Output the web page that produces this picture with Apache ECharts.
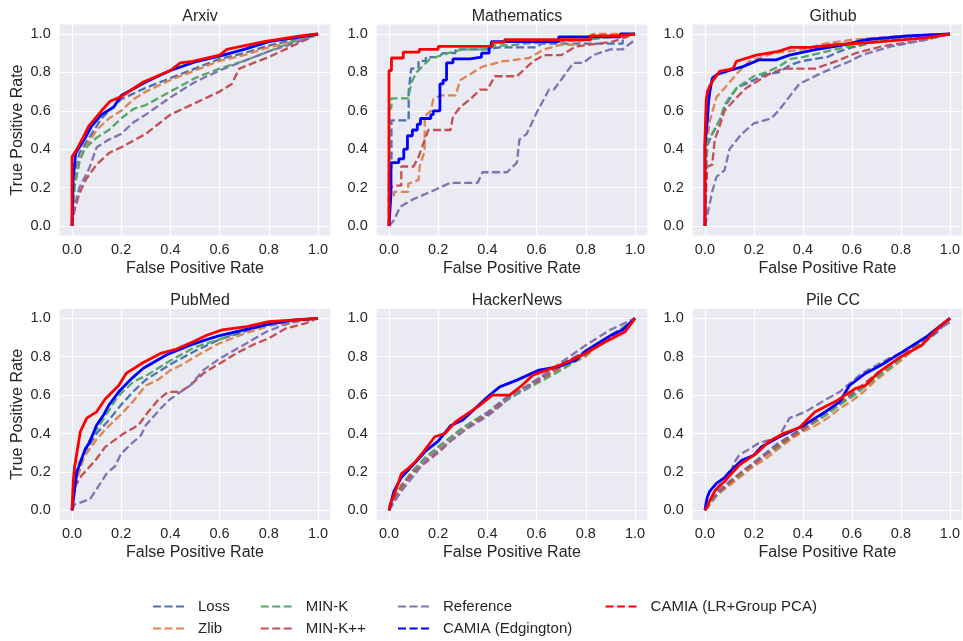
<!DOCTYPE html>
<html><head><meta charset="utf-8">
<script src="https://cdn.jsdelivr.net/npm/echarts@6/dist/echarts.min.js"></script>
<style>html,body{margin:0;padding:0;background:#fff}#chart{width:963px;height:641px}</style>
</head><body><div id="chart"></div><script>
const methods = ['Loss','Zlib','MIN-K','MIN-K++','Reference','CAMIA (Edgington)','CAMIA (LR+Group PCA)'];
const methodColors = ['#4C72B0','#DD8452','#55A868','#C44E52','#8172B3','#0000FF','#FF0000'];
const panelTitles = ['Arxiv','Mathematics','Github','PubMed','HackerNews','Pile CC'];
const tickValues = [0,0.2,0.4,0.6,0.8,1.0];

// ---- Arxiv ----
const arxivLoss = [[0,0],[0.01,0.25],[0.03,0.38],[0.08,0.48],[0.12,0.56],[0.15,0.6],[0.2,0.66],[0.3,0.72],[0.4,0.77],[0.5,0.82],[0.6,0.87],[0.7,0.9],[0.8,0.94],[0.9,0.97],[1,1]];
const arxivZlib = [[0,0],[0.01,0.2],[0.03,0.35],[0.07,0.44],[0.1,0.5],[0.15,0.56],[0.2,0.6],[0.25,0.66],[0.3,0.7],[0.4,0.76],[0.5,0.81],[0.6,0.86],[0.7,0.89],[0.8,0.93],[0.9,0.96],[1,1]];
const arxivMinK = [[0,0],[0.01,0.2],[0.03,0.33],[0.05,0.4],[0.1,0.46],[0.15,0.5],[0.2,0.56],[0.25,0.61],[0.3,0.63],[0.4,0.7],[0.5,0.77],[0.6,0.82],[0.7,0.86],[0.8,0.91],[0.9,0.96],[1,1]];
const arxivMinKpp = [[0,0],[0.01,0.08],[0.03,0.17],[0.06,0.25],[0.1,0.32],[0.15,0.38],[0.2,0.41],[0.3,0.48],[0.4,0.58],[0.5,0.64],[0.6,0.7],[0.65,0.74],[0.68,0.82],[0.8,0.88],[0.9,0.94],[1,1]];
const arxivRef = [[0,0],[0.01,0.1],[0.03,0.2],[0.07,0.3],[0.1,0.41],[0.15,0.45],[0.2,0.48],[0.25,0.54],[0.3,0.58],[0.4,0.67],[0.5,0.75],[0.6,0.81],[0.7,0.86],[0.8,0.91],[0.9,0.95],[1,1]];
const arxivEdg = [[0,0],[0.005,0.25],[0.015,0.38],[0.05,0.45],[0.08,0.52],[0.12,0.58],[0.17,0.62],[0.2,0.68],[0.3,0.75],[0.4,0.81],[0.5,0.855],[0.6,0.885],[0.7,0.92],[0.8,0.96],[0.9,0.98],[1,1]];
const arxivLR = [[0,0],[0,0.36],[0.02,0.4],[0.047,0.465],[0.068,0.52],[0.12,0.6],[0.155,0.65],[0.2,0.674],[0.29,0.75],[0.4,0.81],[0.44,0.85],[0.49,0.857],[0.6,0.89],[0.63,0.92],[0.78,0.96],[0.93,0.99],[1,1]];

// ---- Mathematics ----
const mathLoss = [[0,0],[0,0.3],[0.01,0.3],[0.01,0.55],[0.08,0.55],[0.08,0.7],[0.09,0.82],[0.12,0.82],[0.12,0.86],[0.15,0.86],[0.15,0.88],[0.2,0.88],[0.22,0.9],[0.27,0.9],[0.27,0.92],[0.4,0.92],[0.45,0.93],[0.6,0.93],[0.62,0.95],[0.95,0.95],[0.95,0.99],[1,1]];
const mathZlib = [[0,0],[0,0.15],[0.02,0.15],[0.02,0.178],[0.078,0.178],[0.078,0.22],[0.12,0.24],[0.125,0.31],[0.145,0.39],[0.145,0.57],[0.17,0.6],[0.18,0.66],[0.21,0.68],[0.27,0.68],[0.29,0.76],[0.38,0.83],[0.46,0.857],[0.57,0.875],[0.63,0.92],[0.7,0.944],[0.75,0.944],[0.83,1],[1,1]];
const mathMinK = [[0,0],[0,0.6],[0.01,0.62],[0.01,0.665],[0.078,0.665],[0.092,0.75],[0.112,0.8],[0.166,0.87],[0.24,0.9],[0.3,0.92],[0.395,0.92],[0.41,0.94],[0.49,0.94],[0.55,0.95],[0.8,0.97],[0.95,0.99],[1,1]];
const mathMinKpp = [[0,0],[0,0.2],[0.03,0.21],[0.05,0.21],[0.05,0.31],[0.1,0.31],[0.12,0.36],[0.16,0.5],[0.25,0.5],[0.26,0.57],[0.29,0.62],[0.33,0.66],[0.37,0.71],[0.4,0.71],[0.43,0.78],[0.52,0.78],[0.545,0.81],[0.585,0.857],[0.63,0.89],[0.7,0.89],[0.76,0.935],[0.91,0.96],[1,1]];
const mathRef = [[0,0],[0.02,0.03],[0.045,0.1],[0.1,0.14],[0.19,0.19],[0.25,0.225],[0.36,0.225],[0.38,0.28],[0.48,0.28],[0.52,0.33],[0.53,0.45],[0.56,0.48],[0.6,0.59],[0.65,0.71],[0.67,0.71],[0.71,0.78],[0.75,0.85],[0.79,0.85],[0.83,0.89],[0.9,0.92],[0.95,0.92],[1,0.97]];
const mathEdg = [[0,0],[0.008,0.17],[0.008,0.33],[0.04,0.33],[0.04,0.35],[0.06,0.35],[0.06,0.4],[0.075,0.4],[0.075,0.47],[0.095,0.47],[0.095,0.5],[0.115,0.5],[0.115,0.53],[0.128,0.53],[0.128,0.56],[0.17,0.56],[0.17,0.58],[0.18,0.58],[0.18,0.6],[0.207,0.6],[0.207,0.74],[0.22,0.74],[0.22,0.76],[0.234,0.76],[0.234,0.85],[0.26,0.85],[0.26,0.87],[0.33,0.87],[0.33,0.88],[0.376,0.88],[0.376,0.9],[0.407,0.9],[0.407,0.93],[0.416,0.93],[0.416,0.96],[0.69,0.96],[0.69,0.985],[0.94,0.985],[0.94,1],[1,1]];
const mathLR = [[0,0],[0,0.81],[0.01,0.81],[0.01,0.875],[0.058,0.875],[0.058,0.906],[0.123,0.906],[0.123,0.92],[0.2,0.92],[0.2,0.936],[0.42,0.936],[0.42,0.956],[0.47,0.956],[0.47,0.97],[0.82,0.97],[0.82,0.99],[0.93,0.99],[0.93,1],[1,1]];

// ---- Github ----
const githubLoss = [[0,0],[0.005,0.3],[0.01,0.42],[0.03,0.48],[0.06,0.55],[0.08,0.62],[0.1,0.66],[0.13,0.72],[0.2,0.76],[0.25,0.79],[0.3,0.8],[0.35,0.84],[0.4,0.86],[0.5,0.88],[0.55,0.91],[0.6,0.93],[0.7,0.96],[0.8,0.98],[1,1]];
const githubZlib = [[0,0],[0.005,0.35],[0.01,0.45],[0.02,0.55],[0.025,0.57],[0.047,0.67],[0.088,0.73],[0.135,0.8],[0.18,0.857],[0.28,0.9],[0.4,0.92],[0.49,0.95],[0.6,0.97],[0.7,0.98],[0.8,0.99],[1,1]];
const githubMinK = [[0,0],[0.005,0.35],[0.01,0.45],[0.03,0.48],[0.06,0.55],[0.08,0.63],[0.1,0.67],[0.13,0.72],[0.2,0.78],[0.25,0.8],[0.3,0.83],[0.35,0.87],[0.4,0.88],[0.5,0.91],[0.6,0.94],[0.7,0.96],[0.8,0.98],[1,1]];
const githubMinKpp = [[0,0],[0.005,0.2],[0.01,0.31],[0.03,0.32],[0.04,0.45],[0.06,0.52],[0.08,0.6],[0.13,0.67],[0.17,0.72],[0.26,0.79],[0.32,0.82],[0.45,0.82],[0.55,0.865],[0.615,0.9],[0.72,0.935],[0.9,0.97],[1,1]];
const githubRef = [[0,0],[0.01,0.06],[0.02,0.12],[0.03,0.18],[0.047,0.256],[0.08,0.29],[0.1,0.4],[0.15,0.48],[0.2,0.535],[0.27,0.56],[0.3,0.6],[0.345,0.674],[0.385,0.74],[0.48,0.8],[0.59,0.857],[0.64,0.89],[0.76,0.935],[0.9,0.97],[1,1]];
const githubEdg = [[0,0],[0,0.42],[0.01,0.55],[0.015,0.65],[0.02,0.7],[0.03,0.77],[0.05,0.79],[0.1,0.81],[0.155,0.83],[0.22,0.865],[0.29,0.865],[0.345,0.89],[0.45,0.918],[0.55,0.94],[0.655,0.97],[0.83,0.99],[1,1]];
const githubLR = [[0,0],[0,0.45],[0.005,0.65],[0.01,0.7],[0.02,0.73],[0.034,0.76],[0.06,0.805],[0.115,0.82],[0.128,0.857],[0.21,0.89],[0.3,0.91],[0.35,0.93],[0.43,0.93],[0.53,0.944],[0.72,0.96],[0.9,0.98],[1,1]];

// ---- PubMed ----
const pubmedLoss = [[0,0],[0.01,0.15],[0.03,0.22],[0.05,0.3],[0.1,0.4],[0.15,0.47],[0.2,0.55],[0.25,0.62],[0.3,0.68],[0.35,0.72],[0.4,0.76],[0.5,0.83],[0.6,0.89],[0.7,0.93],[0.8,0.97],[0.9,0.99],[1,1]];
const pubmedZlib = [[0,0],[0.01,0.12],[0.03,0.2],[0.05,0.28],[0.1,0.37],[0.15,0.44],[0.2,0.5],[0.25,0.57],[0.3,0.65],[0.35,0.68],[0.4,0.73],[0.45,0.76],[0.5,0.8],[0.6,0.87],[0.7,0.92],[0.8,0.96],[0.9,0.98],[1,1]];
const pubmedMinK = [[0,0],[0.01,0.18],[0.03,0.25],[0.05,0.3],[0.07,0.36],[0.1,0.42],[0.13,0.48],[0.15,0.52],[0.18,0.58],[0.2,0.61],[0.25,0.67],[0.3,0.7],[0.35,0.74],[0.4,0.78],[0.5,0.85],[0.6,0.89],[0.7,0.94],[0.8,0.97],[0.9,0.99],[1,1]];
const pubmedMinKpp = [[0,0],[0.01,0.12],[0.04,0.183],[0.095,0.26],[0.135,0.33],[0.21,0.4],[0.27,0.443],[0.31,0.513],[0.35,0.574],[0.39,0.617],[0.44,0.617],[0.48,0.65],[0.534,0.713],[0.6,0.765],[0.68,0.826],[0.75,0.87],[0.8,0.896],[0.87,0.948],[0.95,0.974],[1,1]];
const pubmedRef = [[0,0],[0.01,0.03],[0.034,0.04],[0.074,0.06],[0.1,0.11],[0.14,0.19],[0.175,0.23],[0.2,0.296],[0.25,0.357],[0.28,0.39],[0.3,0.443],[0.36,0.53],[0.4,0.58],[0.48,0.65],[0.534,0.73],[0.6,0.79],[0.71,0.87],[0.79,0.93],[0.86,0.965],[0.93,0.99],[1,1]];
const pubmedEdg = [[0,0],[0.02,0.2],[0.054,0.32],[0.07,0.35],[0.1,0.443],[0.128,0.496],[0.15,0.548],[0.19,0.617],[0.243,0.687],[0.29,0.74],[0.385,0.81],[0.48,0.86],[0.55,0.89],[0.6,0.91],[0.7,0.94],[0.8,0.97],[0.9,0.99],[1,1]];
const pubmedLR = [[0,0],[0.005,0.15],[0.01,0.22],[0.02,0.3],[0.034,0.41],[0.06,0.48],[0.1,0.513],[0.135,0.58],[0.19,0.65],[0.22,0.713],[0.29,0.77],[0.36,0.817],[0.425,0.84],[0.49,0.877],[0.55,0.913],[0.61,0.94],[0.71,0.957],[0.8,0.983],[1,1]];

// ---- HackerNews ----
const hnLoss = [[0,0],[0.02,0.06],[0.05,0.13],[0.1,0.21],[0.15,0.27],[0.2,0.33],[0.25,0.38],[0.3,0.43],[0.35,0.47],[0.4,0.51],[0.45,0.56],[0.5,0.61],[0.55,0.64],[0.6,0.68],[0.7,0.76],[0.8,0.83],[0.9,0.91],[0.95,0.95],[1,1]];
const hnZlib = [[0,0],[0.02,0.05],[0.05,0.12],[0.1,0.2],[0.15,0.27],[0.2,0.32],[0.25,0.37],[0.3,0.42],[0.35,0.46],[0.4,0.5],[0.45,0.55],[0.5,0.6],[0.6,0.67],[0.7,0.74],[0.8,0.8],[0.85,0.86],[0.9,0.9],[0.95,0.94],[1,1]];
const hnMinK = [[0,0],[0.02,0.06],[0.05,0.13],[0.1,0.21],[0.15,0.28],[0.2,0.33],[0.25,0.38],[0.3,0.43],[0.35,0.47],[0.4,0.5],[0.45,0.55],[0.5,0.59],[0.6,0.66],[0.7,0.73],[0.8,0.81],[0.85,0.86],[0.9,0.91],[0.95,0.95],[1,1]];
const hnMinKpp = [[0,0],[0.02,0.05],[0.05,0.12],[0.1,0.2],[0.15,0.25],[0.2,0.3],[0.25,0.36],[0.3,0.41],[0.35,0.46],[0.4,0.5],[0.45,0.55],[0.5,0.6],[0.6,0.67],[0.7,0.75],[0.8,0.83],[0.9,0.9],[0.95,0.94],[1,1]];
const hnRef = [[0,0],[0.02,0.04],[0.05,0.1],[0.1,0.18],[0.15,0.26],[0.2,0.31],[0.25,0.36],[0.3,0.41],[0.35,0.45],[0.4,0.49],[0.45,0.54],[0.5,0.6],[0.55,0.63],[0.6,0.68],[0.7,0.77],[0.8,0.86],[0.85,0.9],[0.9,0.94],[0.95,0.97],[1,1]];
const hnEdg = [[0,0],[0.02,0.1],[0.05,0.17],[0.1,0.24],[0.15,0.31],[0.2,0.36],[0.25,0.44],[0.3,0.47],[0.35,0.53],[0.4,0.59],[0.45,0.643],[0.52,0.678],[0.61,0.73],[0.69,0.748],[0.76,0.783],[0.8,0.83],[0.85,0.87],[0.9,0.91],[0.95,0.94],[1,1]];
const hnLR = [[0,0],[0.005,0.03],[0.02,0.08],[0.04,0.15],[0.05,0.19],[0.08,0.22],[0.105,0.25],[0.14,0.304],[0.186,0.383],[0.227,0.4],[0.27,0.46],[0.33,0.513],[0.37,0.548],[0.42,0.6],[0.49,0.6],[0.54,0.65],[0.585,0.704],[0.68,0.748],[0.79,0.81],[0.88,0.878],[0.96,0.93],[1,1]];

// ---- Pile CC ----
const pileLoss = [[0,0],[0.02,0.04],[0.05,0.09],[0.1,0.15],[0.15,0.2],[0.2,0.25],[0.25,0.3],[0.3,0.35],[0.35,0.39],[0.4,0.43],[0.45,0.46],[0.5,0.51],[0.55,0.55],[0.6,0.6],[0.65,0.65],[0.7,0.7],[0.8,0.79],[0.9,0.88],[0.95,0.93],[1,1]];
const pileZlib = [[0,0],[0.02,0.04],[0.05,0.08],[0.1,0.13],[0.15,0.18],[0.2,0.23],[0.25,0.27],[0.3,0.32],[0.35,0.37],[0.4,0.41],[0.45,0.44],[0.5,0.48],[0.55,0.53],[0.6,0.57],[0.65,0.62],[0.7,0.68],[0.8,0.78],[0.9,0.89],[1,1]];
const pileMinK = [[0,0],[0.02,0.03],[0.05,0.08],[0.1,0.14],[0.15,0.19],[0.2,0.24],[0.25,0.29],[0.3,0.33],[0.35,0.38],[0.4,0.42],[0.45,0.46],[0.5,0.5],[0.55,0.55],[0.6,0.59],[0.65,0.64],[0.7,0.69],[0.8,0.79],[0.9,0.89],[1,1]];
const pileMinKpp = [[0,0],[0.02,0.04],[0.05,0.09],[0.1,0.14],[0.15,0.2],[0.2,0.24],[0.25,0.29],[0.3,0.34],[0.35,0.38],[0.4,0.42],[0.45,0.47],[0.5,0.52],[0.55,0.56],[0.6,0.61],[0.65,0.66],[0.7,0.71],[0.8,0.8],[0.9,0.9],[1,1]];
const pileRef = [[0,0],[0.02,0.05],[0.05,0.1],[0.1,0.18],[0.12,0.25],[0.14,0.287],[0.22,0.35],[0.3,0.38],[0.345,0.48],[0.41,0.513],[0.49,0.574],[0.55,0.617],[0.64,0.713],[0.75,0.79],[0.8,0.82],[0.85,0.86],[0.9,0.9],[0.95,0.94],[1,0.98]];
const pileEdg = [[0,0],[0.005,0.04],[0.01,0.07],[0.02,0.1],[0.047,0.14],[0.08,0.17],[0.1,0.2],[0.15,0.26],[0.2,0.287],[0.23,0.33],[0.3,0.38],[0.35,0.41],[0.4,0.44],[0.45,0.48],[0.5,0.52],[0.55,0.565],[0.59,0.65],[0.655,0.713],[0.72,0.757],[0.8,0.82],[0.85,0.86],[0.9,0.9],[0.95,0.95],[1,1]];
const pileLR = [[0,0],[0.01,0.02],[0.02,0.05],[0.04,0.1],[0.06,0.13],[0.08,0.15],[0.1,0.18],[0.14,0.235],[0.21,0.296],[0.26,0.357],[0.32,0.4],[0.385,0.43],[0.45,0.513],[0.53,0.565],[0.615,0.635],[0.655,0.65],[0.71,0.72],[0.8,0.8],[0.885,0.86],[0.95,0.948],[1,1]];

const panelData = [
  [arxivLoss, arxivZlib, arxivMinK, arxivMinKpp, arxivRef, arxivEdg, arxivLR],
  [mathLoss, mathZlib, mathMinK, mathMinKpp, mathRef, mathEdg, mathLR],
  [githubLoss, githubZlib, githubMinK, githubMinKpp, githubRef, githubEdg, githubLR],
  [pubmedLoss, pubmedZlib, pubmedMinK, pubmedMinKpp, pubmedRef, pubmedEdg, pubmedLR],
  [hnLoss, hnZlib, hnMinK, hnMinKpp, hnRef, hnEdg, hnLR],
  [pileLoss, pileZlib, pileMinK, pileMinKpp, pileRef, pileEdg, pileLR]
];

const FONT = "'Liberation Sans', Arial, sans-serif";
const TXT = '#262626';
const colLeft = [59.7, 376.7, 692.7];
const rowTop = [24.4, 308.7];
const gW = 270.6, gH = 211.2;

const grids = [], xAxes = [], yAxes = [], titles = [], series = [];
panelTitles.forEach((t, p) => {
  const c = p % 3, r = Math.floor(p / 3);
  grids.push({left: colLeft[c], top: rowTop[r], width: gW, height: gH, show: true,
    backgroundColor: '#EAEAF2', borderWidth: 0, containLabel: false});
  const axisCommon = {
    type: 'value', gridIndex: p, min: -0.05, max: 1.05,
    axisLine: {show: false},
    axisTick: {show: false, customValues: tickValues},
    splitLine: {show: true, lineStyle: {color: '#FFFFFF', width: 1.1}},
    nameLocation: 'middle',
    nameTextStyle: {color: TXT, fontSize: 16, fontFamily: FONT}
  };
  const labelCommon = {customValues: tickValues, formatter: v => v.toFixed(1), color: TXT, fontSize: 14.5, fontFamily: FONT};
  xAxes.push(Object.assign({}, axisCommon, {name: 'False Positive Rate', nameGap: 25,
    axisLabel: Object.assign({}, labelCommon, {margin: 7})}));
  yAxes.push(Object.assign({}, axisCommon, {name: c === 0 ? 'True Positive Rate' : '', nameGap: 34,
    axisLabel: Object.assign({}, labelCommon, {margin: 9})}));
  titles.push({text: t, left: colLeft[c] + gW / 2, top: rowTop[r] - 21, textAlign: 'center',
    textStyle: {color: TXT, fontSize: 16, fontWeight: 'normal', fontFamily: FONT}});
  panelData[p].forEach((d, m) => {
    const solid = m >= 5;
    series.push({
      name: methods[m], type: 'line', xAxisIndex: p, yAxisIndex: p, data: d,
      showSymbol: false, symbol: 'none', smooth: false, silent: true,
      lineStyle: {color: methodColors[m], width: solid ? 2.8 : 2.3, type: solid ? 'solid' : [8, 3.5]},
      itemStyle: {color: methodColors[m]},
      z: 2 + m
    });
  });
});

const dashIcon = 'path://M0,0h8v2h-8z M11.5,0h8v2h-8z M23,0h8v2h-8z';
const legendPos = [[153,599],[153,621],[260.7,599],[260.7,621],[398,599],[398,621],[605.6,599]];
const legends = methods.map((n, i) => ({
  data: [{name: n, icon: dashIcon}], left: legendPos[i][0], top: legendPos[i][1],
  itemWidth: 31, itemHeight: 2.2, selectedMode: false, padding: 0,
  textStyle: {color: TXT, fontSize: 15, fontFamily: FONT, padding: [0,0,0,9]}
}));

const chart = echarts.init(document.getElementById('chart'), null, {renderer: 'canvas'});
chart.setOption({
  animation: false,
  backgroundColor: '#FFFFFF',
  title: titles, grid: grids, xAxis: xAxes, yAxis: yAxes, legend: legends, series: series
});
</script></body></html>
